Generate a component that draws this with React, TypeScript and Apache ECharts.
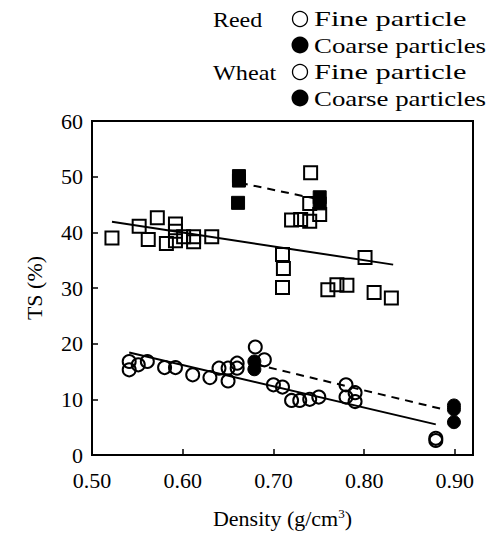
import React, { useEffect, useRef } from "react";
import * as echarts from "echarts";

// Reed fine particles (open squares): [density, TS]
const reedFine: number[][] = [
  [0.522, 39.0], [0.552, 41.1], [0.572, 42.6], [0.562, 38.7], [0.592, 41.5],
  [0.592, 40.2], [0.582, 38.0], [0.592, 38.5], [0.601, 39.2], [0.612, 39.2],
  [0.612, 38.3], [0.632, 39.2], [0.741, 50.7], [0.740, 45.2], [0.751, 43.2],
  [0.720, 42.2], [0.730, 42.3], [0.740, 42.0], [0.710, 36.0], [0.711, 33.5],
  [0.710, 30.1], [0.760, 29.7], [0.770, 30.6], [0.781, 30.5], [0.801, 35.5],
  [0.811, 29.2], [0.830, 28.2],
];
// Reed coarse particles (filled squares)
const reedCoarse: number[][] = [
  [0.662, 50.1], [0.662, 49.3], [0.661, 45.3], [0.751, 46.3], [0.751, 45.2],
];
// Wheat fine particles (open circles)
const wheatFine: number[][] = [
  [0.541, 16.8], [0.541, 15.3], [0.551, 16.2], [0.561, 16.8], [0.580, 15.7],
  [0.592, 15.7], [0.611, 14.4], [0.630, 13.9], [0.640, 15.6], [0.650, 15.6],
  [0.650, 13.3], [0.660, 16.5], [0.660, 15.6], [0.680, 19.4], [0.690, 17.1],
  [0.700, 12.6], [0.710, 12.2], [0.720, 9.8], [0.729, 9.8], [0.740, 10.0],
  [0.750, 10.4], [0.780, 12.6], [0.780, 10.4], [0.790, 11.2], [0.790, 9.6],
  [0.879, 3.0], [0.879, 2.6],
];
// Wheat coarse particles (filled circles)
const wheatCoarse: number[][] = [
  [0.679, 16.8], [0.679, 15.4], [0.899, 8.9], [0.899, 8.2], [0.899, 5.9],
];
// Regression lines (endpoints)
const reedFineFit: number[][] = [[0.522, 41.9], [0.832, 34.2]];
const reedCoarseFit: number[][] = [[0.663, 48.9], [0.748, 46.0]];
const wheatFineFit: number[][] = [[0.541, 18.4], [0.879, 5.5]];
const wheatCoarseFit: number[][] = [[0.68, 16.3], [0.89, 8.1]];

const legendGroups = ["Reed", "Wheat"];
const legendItems = ["Fine particle", "Coarse particles"];

const FONT = "'Liberation Serif', 'Times New Roman', serif";

export default function App() {
  const ref = useRef<HTMLDivElement>(null);
  useEffect(() => {
    if (!ref.current) return;
    const chart = echarts.init(ref.current, undefined, { renderer: "svg" });
    const openStyle = { color: "transparent", borderColor: "#000", borderWidth: 2, opacity: 1 };
    const fillStyle = { color: "#000", borderColor: "#000", borderWidth: 1, opacity: 1 };
    const lineSeries = (data: number[][], dashed: boolean) => ({
      type: "line",
      data,
      symbol: "none",
      silent: true,
      lineStyle: { color: "#000", width: 2, type: dashed ? [8, 6] : "solid" },
      z: 1,
    });
    const legendGraphics: any[] = [];
    const rowY = [19, 45, 72, 98];
    const groupScale = [1.09, 1.1];
    const itemScale = [1.38, 1.22];
    legendGroups.forEach((g, gi) => {
      legendGraphics.push({
        type: "text",
        x: 213,
        y: rowY[gi * 2],
        scaleX: groupScale[gi],
        style: { text: g, font: `22px ${FONT}`, fill: "#000", textAlign: "left", textVerticalAlign: "middle" },
      });
      legendItems.forEach((it, ii) => {
        const y = rowY[gi * 2 + ii];
        legendGraphics.push({
          type: "circle",
          shape: { cx: 300, cy: y, r: ii === 0 ? 7.5 : 8.5 },
          style: ii === 0 ? { fill: "#fff", stroke: "#000", lineWidth: 1.3 } : { fill: "#000" },
        });
        legendGraphics.push({
          type: "text",
          x: 314,
          y,
          scaleX: itemScale[ii],
          style: { text: it, font: `22px ${FONT}`, fill: "#000", textAlign: "left", textVerticalAlign: "middle" },
        });
      });
    });
    chart.setOption({
      animation: false,
      textStyle: { fontFamily: FONT },
      grid: {
        left: 92,
        right: 16,
        top: 121,
        bottom: 80,
        show: true,
        borderColor: "#000",
        borderWidth: 2,
        backgroundColor: "transparent",
      },
      xAxis: {
        type: "value",
        min: 0.5,
        max: 0.92,
        interval: 0.1,
        name: "Density (g/cm{sup|3})",
        nameLocation: "middle",
        nameGap: 52,
        nameTextStyle: {
          fontFamily: FONT,
          fontSize: 22,
          color: "#000",
          rich: { sup: { fontFamily: FONT, fontSize: 13, verticalAlign: "top", padding: [0, 0, 10, 0] } },
        },
        splitLine: { show: false },
        axisLine: { lineStyle: { color: "#000", width: 2 } },
        axisTick: { inside: true, length: 6, lineStyle: { color: "#000", width: 1.5 } },
        axisLabel: {
          fontFamily: FONT,
          fontSize: 22,
          color: "#000",
          margin: 14,
          formatter: (v: number) =>
            Math.abs(v * 10 - Math.round(v * 10)) < 1e-6 ? v.toFixed(2) : "",
        },
      },
      yAxis: {
        type: "value",
        min: 0,
        max: 60,
        interval: 10,
        name: "TS (%)",
        nameLocation: "middle",
        nameGap: 47,
        nameTextStyle: { fontFamily: FONT, fontSize: 22, color: "#000" },
        splitLine: { show: false },
        axisLine: { lineStyle: { color: "#000", width: 2 } },
        axisTick: { inside: true, length: 6, lineStyle: { color: "#000", width: 1.5 } },
        axisLabel: { fontFamily: FONT, fontSize: 22, color: "#000", margin: 9 },
      },
      graphic: legendGraphics,
      series: [
        lineSeries(reedFineFit, false),
        lineSeries(reedCoarseFit, true),
        lineSeries(wheatFineFit, false),
        lineSeries(wheatCoarseFit, true),
        { type: "scatter", data: reedFine, symbol: "rect", symbolSize: 13, itemStyle: openStyle, z: 2 },
        { type: "scatter", data: reedCoarse, symbol: "rect", symbolSize: 13, itemStyle: fillStyle, z: 3 },
        { type: "scatter", data: wheatFine, symbol: "circle", symbolSize: 13, itemStyle: openStyle, z: 2 },
        { type: "scatter", data: wheatCoarse, symbol: "circle", symbolSize: 13, itemStyle: fillStyle, z: 3 },
      ],
    });
    return () => chart.dispose();
  }, []);
  return <div ref={ref} style={{ width: 489, height: 535, position: "absolute", left: 0, top: 0 }} />;
}
